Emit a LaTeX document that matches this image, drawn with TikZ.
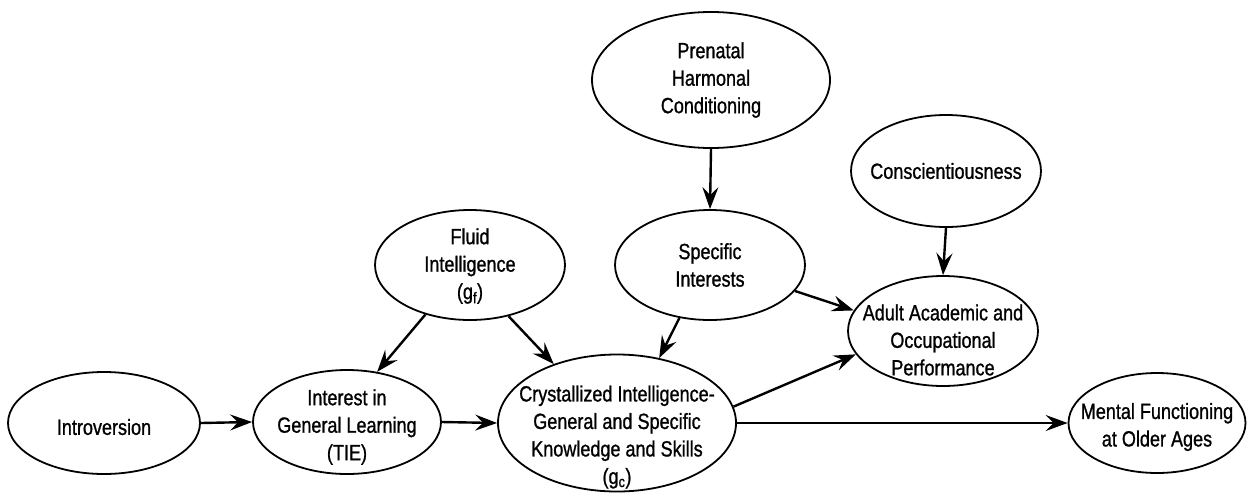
\documentclass[tikz,border=0pt]{standalone}
\usepackage{fontspec}
\setmainfont[FakeStretch=0.82,FakeBold=1]{Liberation Sans}
\usetikzlibrary{shapes.geometric,arrows.meta}
\begin{document}
\begin{tikzpicture}[x=1pt,y=-1pt,
  oval/.style={ellipse,draw,line width=1.8pt,inner sep=0pt},
  txt/.style={align=center,font=\fontsize{22}{27.5}\selectfont,inner sep=0pt},
  arr/.style={line width=2.4pt,-{Stealth[length=22pt,width=16pt,inset=8pt]}}]
\useasboundingbox (0,0) rectangle (1255,493);

\node[oval,minimum width=192pt,minimum height=102pt] (intro) at (104,423) {};
\node[oval,minimum width=188pt,minimum height=104pt] (interest) at (347,422) {};
\node[oval,minimum width=190pt,minimum height=110pt] (fluid) at (470,265) {};
\node[oval,minimum width=238pt,minimum height=137pt] (cryst) at (617,423) {};
\node[oval,minimum width=238pt,minimum height=136pt] (prenatal) at (711,80) {};
\node[oval,minimum width=190pt,minimum height=110pt] (specific) at (710,265) {};
\node[oval,minimum width=190pt,minimum height=112pt] (consc) at (946,171) {};
\node[oval,minimum width=190pt,minimum height=110pt] (adult) at (943,331) {};
\node[oval,minimum width=177pt,minimum height=100pt] (mental) at (1157,423) {};

\node[txt,yshift=-4pt] (introT) at (intro.center) {Introversion};
\node[txt,yshift=-5pt] (interestT) at (interest.center) {Interest in\\General Learning\\(TIE)};
\node[txt,yshift=-1pt] (fluidT) at (fluid.center) {Fluid\\Intelligence\\(g\textsubscript{f})};
\node[txt,yshift=-14pt] (crystT) at (cryst.center) {Crystallized Intelligence-\\General and Specific\\Knowledge and Skills\\(g\textsubscript{c})};
\node[txt] (prenatalT) at (prenatal.center) {Prenatal\\Harmonal\\Conditioning};
\node[txt] (specificT) at (specific.center) {Specific\\Interests};
\node[txt] (conscT) at (consc.center) {Conscientiousness};
\node[txt,yshift=-9pt] (adultT) at (adult.center) {Adult Academic and\\Occupational\\Performance};
\node[txt,yshift=-4pt] (mentalT) at (mental.center) {Mental Functioning\\at Older Ages};

\draw[arr] (intro.east) -- (interest.west);
\draw[arr] (interest.east) -- (cryst.west);
\draw[arr] (fluid.228.5) -- (interest.59.7);
\draw[arr] (fluid.307.6) -- (cryst.137.8);
\draw[arr] (prenatal.south) -- (specific.north);
\draw[arr] (consc.south) -- (adult.north);
\draw[arr] (specific.240.6) -- (cryst.57.4);
\draw[arr] (specific.343.8) -- (adult.167.5);
\draw[arr] (cryst.8.3) -- (adult.195.9);
\draw[arr] (cryst.east) -- (mental.west);
\end{tikzpicture}
\end{document}
